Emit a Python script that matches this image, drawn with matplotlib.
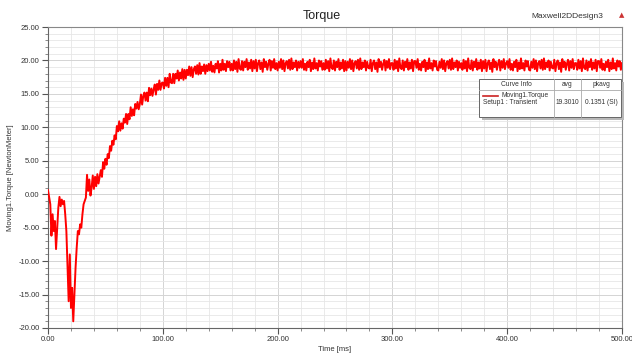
import numpy as np
import matplotlib
matplotlib.use("Agg")
import matplotlib.pyplot as plt
from matplotlib.ticker import MultipleLocator, FormatStrFormatter
from matplotlib.patches import Rectangle
from matplotlib.lines import Line2D

plt.rcParams['font.family'] = ['Liberation Sans', 'DejaVu Sans']

# Time axis [ms], 1 ms samples
time_ms = np.arange(0, 501, 1)

# 0 - 59 ms : start-up transient
torque_startup = [
    0.6, -0.5, -1.5, -6.2, -3.0, -5.5, -4.0, -8.2, -5.0, -2.0,
    -0.4, -1.8, -0.8, -1.5, -1.0, -3.0, -5.5, -11.0, -16.0, -9.0,
    -17.0, -14.0, -19.0, -15.0, -11.0, -8.0, -5.5, -6.0, -4.5, -5.0,
    -3.0, -1.5, -1.0, -0.5, 2.9, 0.5, 2.2, -0.2, 1.0, 2.8,
    0.8, 2.6, 1.2, 3.0, 1.6, 2.6, 3.6, 2.6, 4.8, 3.8,
    5.3, 4.4, 6.0, 5.4, 7.2, 6.5, 8.0, 7.4, 8.8, 8.2,
]

# 60 - 179 ms : rise towards steady state
torque_rise = [
    10.2, 9.4, 10.9, 9.5, 10.6, 9.8, 11.3, 10.7, 12.0, 10.5, 12.0, 11.2, 13.0, 11.7, 12.7, 11.8, 13.5, 12.8, 13.8, 12.7,
    13.5, 14.9, 13.4, 14.7, 15.2, 14.0, 15.2, 13.9, 15.9, 14.8, 15.8, 14.7, 15.7, 16.4, 14.9, 16.5, 15.6, 17.0, 15.6, 16.6,
    16.7, 15.8, 17.4, 16.2, 17.4, 16.0, 18.0, 16.7, 16.6, 18.0, 16.6, 18.0, 17.3, 18.5, 17.0, 18.2, 17.3, 18.7, 17.1, 18.6,
    17.3, 18.6, 17.8, 19.1, 17.7, 19.0, 17.5, 18.7, 19.1, 18.0, 19.3, 17.9, 19.6, 18.0, 19.1, 18.4, 19.4, 18.0, 19.3, 18.4,
    19.5, 18.5, 19.8, 18.3, 19.2, 18.2, 19.5, 18.8, 19.9, 18.2, 19.5, 18.5, 20.1, 18.6, 19.5, 18.4, 19.9, 19.0, 19.8, 18.5,
    19.5, 18.5, 20.0, 18.7, 19.8, 18.3, 20.2, 18.8, 18.6, 19.9, 18.5, 19.8, 19.0, 20.2, 18.6, 19.7, 18.8, 20.1, 18.4, 19.9,
]

# 180 - 500 ms : steady state ripple (20 ms blocks)
steady_a = [19.9, 18.9, 20.2, 18.6, 19.5, 18.5, 19.8, 19.0, 20.1, 18.4, 19.7, 18.7, 20.3, 18.8, 19.6, 18.5, 20.0, 19.1, 19.9, 18.6]
steady_b = [18.8, 20.1, 18.4, 19.6, 20.0, 18.7, 19.7, 18.3, 20.2, 19.0, 19.8, 18.6, 19.5, 20.1, 18.5, 19.9, 18.9, 20.2, 18.7, 19.6]
steady_c = [19.6, 18.6, 20.1, 18.8, 19.9, 18.4, 20.3, 18.9, 18.7, 20.0, 18.5, 19.8, 19.0, 20.2, 18.6, 19.7, 18.8, 20.1, 18.4, 19.9]
steady_d = [18.5, 19.8, 18.9, 20.2, 18.7, 20.0, 18.4, 19.6, 19.9, 18.8, 20.1, 18.6, 20.3, 18.7, 19.7, 19.0, 20.0, 18.5, 19.8, 18.9]
steady_end = [19.6]

series_name = "Moving1.Torque"
setup_name = "Setup1 : Transient"
avg_text = "19.3010"
pkavg_text = "0.1351 (SI)"

torque = np.array(
    torque_startup + torque_rise
    + steady_b + steady_d + steady_a + steady_c
    + steady_d + steady_b + steady_c + steady_a
    + steady_d + steady_c + steady_b + steady_a
    + steady_d + steady_b + steady_c + steady_a
    + steady_end
)

W, H = 632, 354
fig = plt.figure(figsize=(W / 100, H / 100), dpi=100)
ax = fig.add_axes([48 / W, 1 - 328 / H, (622 - 48) / W, (328 - 27) / H])

ax.plot(time_ms, torque, color='#ff0000', lw=1.4, zorder=3)

ax.set_xlim(0, 500)
ax.set_ylim(-20, 25)
ax.xaxis.set_major_locator(MultipleLocator(100))
ax.xaxis.set_minor_locator(MultipleLocator(20))
ax.yaxis.set_major_locator(MultipleLocator(5))
ax.yaxis.set_minor_locator(MultipleLocator(1))
ax.xaxis.set_major_formatter(FormatStrFormatter('%.2f'))
ax.yaxis.set_major_formatter(FormatStrFormatter('%.2f'))

ax.grid(which='major', color='#d4d4d4', lw=0.7)
ax.grid(which='minor', color='#e6e6e6', lw=0.6)
ax.set_axisbelow(True)

ax.tick_params(which='major', direction='out', length=4, width=0.8,
               colors='#555555', labelsize=5.5, labelcolor='#333333', pad=2)
ax.tick_params(which='minor', direction='out', length=2, width=0.6, colors='#777777')
for s in ['left', 'bottom']:
    ax.spines[s].set_color('#666666')
    ax.spines[s].set_linewidth(0.8)
for s in ['top', 'right']:
    ax.spines[s].set_color('#888888')
    ax.spines[s].set_linewidth(0.8)

ax.set_xlabel("Time [ms]", fontsize=5.5, color='#333333', labelpad=2)
ax.set_ylabel("Moving1.Torque [NewtonMeter]", fontsize=5.5, color='#333333', labelpad=3)

fig.text(322 / W, 1 - 16 / H, "Torque", ha='center', va='center', fontsize=9, color='#222222')
fig.text(603 / W, 1 - 16 / H, "Maxwell2DDesign3", ha='right', va='center', fontsize=6, color='#333333')
fig.text(622 / W, 1 - 15 / H, "\u25B2", ha='center', va='center', fontsize=5, color='#cc3333',
         family=['DejaVu Sans'])

# Curve info table (pixel coordinates of the figure)
def px(x, y):
    return x / W, 1 - y / H

bx0, by0, bx1, by1 = 479, 79, 621, 117
fig.patches.append(Rectangle(px(bx0 + 3, by1 + 3), (bx1 - bx0) / W, (by1 - by0) / H,
                             transform=fig.transFigure, facecolor='#b8b8b8', edgecolor='none', zorder=4))
fig.patches.append(Rectangle(px(bx0, by1), (bx1 - bx0) / W, (by1 - by0) / H,
                             transform=fig.transFigure, facecolor='white', edgecolor='#666666',
                             lw=0.7, zorder=5))
for xx in [554, 581]:
    fig.lines.append(Line2D([xx / W, xx / W], [1 - by0 / H, 1 - by1 / H], transform=fig.transFigure,
                            color='#aaaaaa', lw=0.6, zorder=6))
fig.lines.append(Line2D([bx0 / W, bx1 / W], [1 - 90 / H, 1 - 90 / H], transform=fig.transFigure,
                        color='#aaaaaa', lw=0.6, zorder=6))
fs = 4.8
fig.text(*px(516, 85), "Curve Info", ha='center', va='center', fontsize=fs, color='#333333', zorder=7)
fig.text(*px(567.5, 85), "avg", ha='center', va='center', fontsize=fs, color='#333333', zorder=7)
fig.text(*px(601, 85), "pkavg", ha='center', va='center', fontsize=fs, color='#333333', zorder=7)
fig.lines.append(Line2D([483 / W, 498 / W], [1 - 96 / H, 1 - 96 / H], transform=fig.transFigure,
                        color='#cc2222', lw=1.2, zorder=7))
fig.text(*px(501, 95.5), series_name, ha='left', va='center', fontsize=fs, color='#333333', zorder=7)
fig.text(*px(483, 103), setup_name, ha='left', va='center', fontsize=fs, color='#333333', zorder=7)
fig.text(*px(567.5, 103), avg_text, ha='center', va='center', fontsize=fs, color='#333333', zorder=7)
fig.text(*px(601, 103), pkavg_text, ha='center', va='center', fontsize=fs, color='#333333', zorder=7)

fig.savefig("out.png", dpi=100)
